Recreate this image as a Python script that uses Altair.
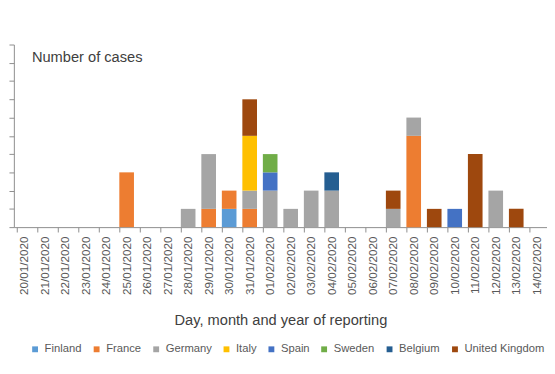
import altair as alt
import pandas as pd

dates = ["20/01/2020", "21/01/2020", "22/01/2020", "23/01/2020", "24/01/2020",
         "25/01/2020", "26/01/2020", "27/01/2020", "28/01/2020", "29/01/2020",
         "30/01/2020", "31/01/2020", "01/02/2020", "02/02/2020", "03/02/2020",
         "04/02/2020", "05/02/2020", "06/02/2020", "07/02/2020", "08/02/2020",
         "09/02/2020", "10/02/2020", "11/02/2020", "12/02/2020", "13/02/2020",
         "14/02/2020"]

countries = ["Finland", "France", "Germany", "Italy", "Spain", "Sweden",
             "Belgium", "United Kingdom"]
colors = ["#5B9BD5", "#ED7D31", "#A5A5A5", "#FFC000", "#4472C4", "#70AD47",
          "#255E91", "#9E480E"]

#                20 21 22 23 24 25 26 27 28 29 30 31 01 02 03 04 05 06 07 08 09 10 11 12 13 14
finland =       [0, 0, 0, 0, 0, 0, 0, 0, 0, 0, 1, 0, 0, 0, 0, 0, 0, 0, 0, 0, 0, 0, 0, 0, 0, 0]
france =        [0, 0, 0, 0, 0, 3, 0, 0, 0, 1, 1, 1, 0, 0, 0, 0, 0, 0, 0, 5, 0, 0, 0, 0, 0, 0]
germany =       [0, 0, 0, 0, 0, 0, 0, 0, 1, 3, 0, 1, 2, 1, 2, 2, 0, 0, 1, 1, 0, 0, 0, 2, 0, 0]
italy =         [0, 0, 0, 0, 0, 0, 0, 0, 0, 0, 0, 3, 0, 0, 0, 0, 0, 0, 0, 0, 0, 0, 0, 0, 0, 0]
spain =         [0, 0, 0, 0, 0, 0, 0, 0, 0, 0, 0, 0, 1, 0, 0, 0, 0, 0, 0, 0, 0, 1, 0, 0, 0, 0]
sweden =        [0, 0, 0, 0, 0, 0, 0, 0, 0, 0, 0, 0, 1, 0, 0, 0, 0, 0, 0, 0, 0, 0, 0, 0, 0, 0]
belgium =       [0, 0, 0, 0, 0, 0, 0, 0, 0, 0, 0, 0, 0, 0, 0, 1, 0, 0, 0, 0, 0, 0, 0, 0, 0, 0]
united_kingdom = [0, 0, 0, 0, 0, 0, 0, 0, 0, 0, 0, 2, 0, 0, 0, 0, 0, 0, 1, 0, 1, 0, 4, 0, 1, 0]

series = [finland, france, germany, italy, spain, sweden, belgium, united_kingdom]

rows = []
for ci, (name, vals) in enumerate(zip(countries, series)):
    for d, v in zip(dates, vals):
        if v > 0:
            rows.append({"date": d, "country": name, "cases": v, "order": ci})
df = pd.DataFrame(rows)

FONT = "Liberation Sans"

chart = alt.Chart(df).mark_bar().encode(
    x=alt.X("date:N", sort=dates,
            scale=alt.Scale(domain=dates, paddingInner=0.286, paddingOuter=0.143),
            axis=alt.Axis(title="Day, month and year of reporting", labelAngle=-90,
                          bandPosition=0, tickSize=5, labelFontSize=12,
                          labelColor="#595959", labelFont=FONT, labelPadding=4,
                          titleFont=FONT, titleFontSize=15, titleFontWeight="normal",
                          titleColor="#404040", titleY=95, titleBaseline="middle",
                          domainColor="#8c8c8c", tickColor="#8c8c8c")),
    y=alt.Y("cases:Q", stack="zero",
            scale=alt.Scale(domain=[0, 10], nice=False),
            axis=alt.Axis(title="Number of cases", values=list(range(0, 11)),
                          grid=False, tickSize=5, labelFontSize=12,
                          labelColor="#595959", labelFont=FONT,
                          titleAngle=0, titleAlign="left", titleBaseline="middle",
                          titleX=18, titleY=12, titleFont=FONT, titleFontSize=15,
                          titleFontWeight="normal", titleColor="#404040",
                          domainColor="#8c8c8c", tickColor="#8c8c8c")),
    color=alt.Color("country:N", sort=countries,
                    scale=alt.Scale(domain=countries, range=colors),
                    legend=alt.Legend(title=None, orient="none", direction="horizontal",
                                      legendX=16, legendY=306, symbolType="square",
                                      symbolSize=36, symbolStrokeWidth=0,
                                      labelFont=FONT, labelFontSize=11.5,
                                      labelColor="#595959", columnPadding=9,
                                      labelOffset=4)),
    order=alt.Order("order:Q", sort="ascending"),
).properties(
    width=546, height=187,
    autosize=alt.AutoSizeParams(type="none"),
    padding={"left": 6, "top": 33, "right": 0, "bottom": 146},
).configure_view(stroke=None)

chart.save("out.html", embed_options={"renderer": "svg", "actions": False})
